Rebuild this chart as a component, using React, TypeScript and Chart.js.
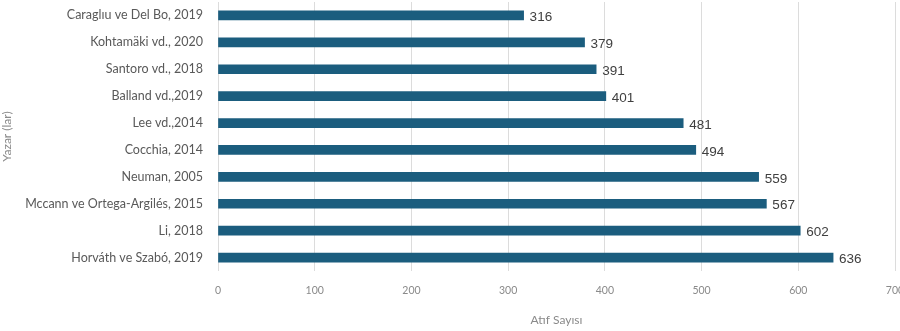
import React, { useEffect, useRef } from "react";
import { Chart, registerables } from "chart.js";

Chart.register(...registerables);

const authors = [
  "Caraglıu ve Del Bo, 2019",
  "Kohtamäki vd., 2020",
  "Santoro vd., 2018",
  "Balland vd.,2019",
  "Lee vd.,2014",
  "Cocchia, 2014",
  "Neuman, 2005",
  "Mccann ve Ortega-Argilés, 2015",
  "Li, 2018",
  "Horváth ve Szabó, 2019",
];
const citations = [316, 379, 391, 401, 481, 494, 559, 567, 602, 636];
const xTicks = [0, 100, 200, 300, 400, 500, 600, 700];

const FONT = "Lato, 'Liberation Sans', sans-serif";

const valueLabels = {
  id: "valueLabels",
  afterDatasetsDraw(chart: any) {
    const ctx = chart.ctx;
    const meta = chart.getDatasetMeta(0);
    ctx.save();
    ctx.font = `13.5px 'Liberation Sans', Arial, sans-serif`;
    ctx.fillStyle = "#404040";
    ctx.textAlign = "left";
    ctx.textBaseline = "middle";
    meta.data.forEach((bar: any, i: number) => {
      ctx.fillText(String(citations[i]), bar.x + 6, bar.y + 2);
    });
    ctx.restore();
  },
};

export default function App() {
  const ref = useRef<HTMLCanvasElement | null>(null);
  useEffect(() => {
    document.body.style.margin = "0";
    const chart = new Chart(ref.current!, {
      type: "bar",
      data: {
        labels: authors,
        datasets: [
          {
            data: citations,
            backgroundColor: "#1b5d7e",
            barThickness: 9,
          },
        ],
      },
      options: {
        indexAxis: "y",
        animation: false,
        responsive: false,
        maintainAspectRatio: false,
        layout: { padding: { top: 2, right: 5, left: 0, bottom: 0 } },
        plugins: { legend: { display: false }, tooltip: { enabled: false } },
        scales: {
          x: {
            min: 0,
            max: 700,
            afterBuildTicks: (s: any) => {
              s.ticks = xTicks.map((v) => ({ value: v }));
            },
            afterFit: (s: any) => {
              s.height = 60;
              s.paddingLeft = 0;
              s.paddingRight = 0;
            },
            grid: { color: "#dcdcdc", drawTicks: false },
            border: { display: false },
            ticks: {
              color: "#8a8a8a",
              font: { size: 10.5, family: FONT },
              padding: 13,
            },
            title: {
              display: true,
              text: "Atıf Sayısı",
              color: "#8a8a8a",
              font: { size: 12, family: FONT },
              padding: { top: 9 },
            },
          },
          y: {
            afterFit: (s: any) => {
              s.width = 218;
              s.paddingTop = 0;
              s.paddingBottom = 0;
            },
            grid: { display: false },
            border: { display: false },
            ticks: {
              color: "#595959",
              font: { size: 12.5, family: FONT },
              padding: 7,
            },
            title: {
              display: true,
              text: "Yazar (lar)",
              color: "#8a8a8a",
              font: { size: 12, family: FONT },
              padding: { bottom: 0, top: 0 },
            },
          },
        },
      },
      plugins: [valueLabels],
    });
    return () => chart.destroy();
  }, []);
  return (
    <div style={{ width: 900, height: 331 }}>
      <canvas ref={ref} width={900} height={331} style={{ display: "block" }} />
    </div>
  );
}
